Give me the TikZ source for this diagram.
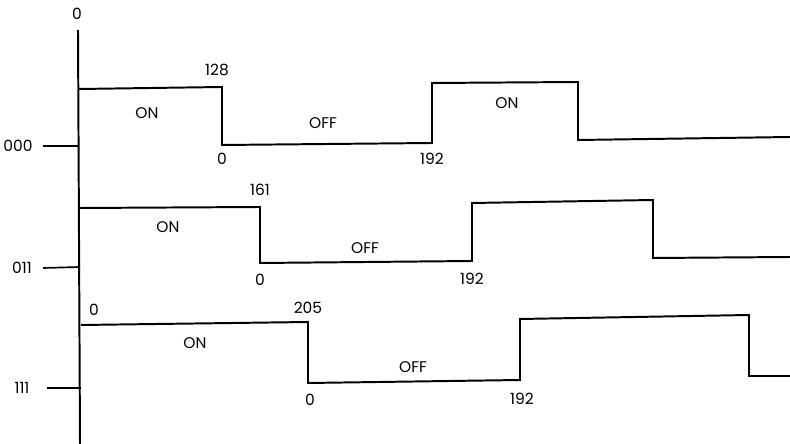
\documentclass[tikz,border=0pt]{standalone}
\usepackage{fontspec}
\setmainfont{Poppins}
\usetikzlibrary{positioning}
\tikzset{
  wave/.style={line width=1.4pt,line join=miter},
  axisline/.style={line width=1.4pt},
  tickline/.style={line width=1.2pt},
  lbl/.style={font=\fontsize{11}{13}\selectfont,inner sep=1pt},
}

\begin{document}
\begin{tikzpicture}[x=0.025cm,y=-0.025cm]
    \useasboundingbox (0,0) rectangle (790,444);
    % time axis
    \node[lbl] (origin) at (77,14) {0};
    \coordinate (axtop) at (78,30);
    \coordinate (axbot) at (80,444);
    \draw[axisline] (axtop) -- (axbot);
    % row labels and ticks
    \node[lbl] (rowA) at (18,146) {000};
    \node[lbl] (rowB) at (22,268) {011};
    \node[lbl] (rowC) at (22,388) {111};
    \coordinate (tickA0) at (43,146);
    \coordinate (tickB0) at (43,268);
    \coordinate (tickC0) at (47,388);
    \coordinate (tickA) at (78,146);
    \coordinate (tickB) at (80,267);
    \coordinate (tickC) at (81,388);
    \draw[tickline] (tickA0) -- (tickA);
    \draw[tickline] (tickB0) -- (tickB);
    \draw[tickline] (tickC0) -- (tickC);
    % row 000
    \draw[wave] (79,89) -- (222,87) -- (222,145) -- (432,143) -- (432,83) -- (578,82) -- (578,140) -- (790,137);
    \node[lbl] (hiA) at (217,70) {128};
    \node[lbl] (onA) at (147,113) {ON};
    \node[lbl] (loA) at (222,159) {0};
    \node[lbl] (offA) at (323,123) {OFF};
    \node[lbl] (reA) at (432,159) {192};
    \node[lbl] (onAA) at (507,103) {ON};
    % row 011
    \draw[wave] (80,208) -- (260,207) -- (260,263) -- (472,261) -- (472,203) -- (653,200) -- (653,258) -- (790,257);
    \node[lbl] (hiB) at (260,190) {161};
    \node[lbl] (onB) at (168,227) {ON};
    \node[lbl] (loB) at (260,280) {0};
    \node[lbl] (offB) at (365,248) {OFF};
    \node[lbl] (reB) at (472,279) {192};
    % row 111
    \draw[wave] (81,325) -- (308,322) -- (308,383) -- (520,380) -- (520,319) -- (749,315) -- (749,376) -- (790,376);
    \node[lbl] (stC) at (94,310) {0};
    \node[lbl] (hiC) at (308,308) {205};
    \node[lbl] (onC) at (195,343) {ON};
    \node[lbl] (loC) at (310,400) {0};
    \node[lbl] (offC) at (413,367) {OFF};
    \node[lbl] (reC) at (522,399) {192};
\end{tikzpicture}
\end{document}
